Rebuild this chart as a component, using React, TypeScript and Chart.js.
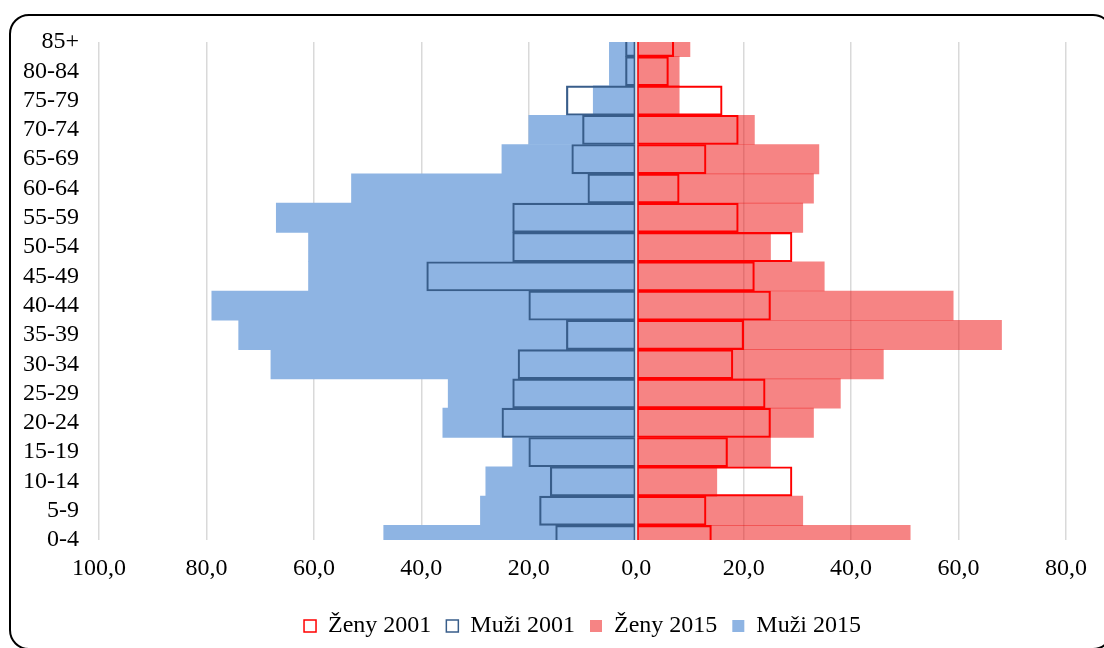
import React, { useEffect, useRef } from 'react';
import { Chart, registerables } from 'chart.js';

Chart.register(...registerables);

// Age groups from youngest (bottom) to oldest (top)
const ageGroups = ['0-4', '5-9', '10-14', '15-19', '20-24', '25-29', '30-34', '35-39', '40-44', '45-49', '50-54', '55-59', '60-64', '65-69', '70-74', '75-79', '80-84', '85+'];

const zeny2001 = [14, 13, 29, 17, 25, 24, 18, 20, 25, 22, 29, 19, 8, 13, 19, 16, 6, 7];
const muzi2001 = [15, 18, 16, 20, 25, 23, 22, 13, 20, 39, 23, 23, 9, 12, 10, 13, 2, 2];
const zeny2015 = [51, 31, 15, 25, 33, 38, 46, 68, 59, 35, 25, 31, 33, 34, 22, 8, 8, 10];
const muzi2015 = [47, 29, 28, 23, 36, 35, 68, 74, 79, 61, 61, 67, 53, 25, 20, 8, 5, 5];

const seriesLabels = ['Ženy 2001', 'Muži 2001', 'Ženy 2015', 'Muži 2015'];

const xMin = -100;
const xMax = 80;
const xStep = 20;

const FONT = "'Liberation Serif', 'Times New Roman', serif";
const FONT_SIZE = 24;

const zeroLine = {
  id: 'zeroLine',
  afterDatasetsDraw(chart: any) {
    const ctx = chart.ctx;
    const x = chart.scales.x.getPixelForValue(0);
    const { top, bottom } = chart.chartArea;
    ctx.save();
    ctx.strokeStyle = '#DCE3EA';
    ctx.lineWidth = 2;
    ctx.beginPath();
    ctx.moveTo(x, top);
    ctx.lineTo(x, bottom);
    ctx.stroke();
    ctx.restore();
  },
};

// Centre the legend under the plot area (as in the original)
const legendUnderPlot = {
  id: 'legendUnderPlot',
  afterLayout(chart: any) {
    const lg = chart.legend;
    if (!lg) return;
    const shift = (chart.chartArea.left + chart.chartArea.right) / 2 - (lg.left + lg.right) / 2;
    lg.left += shift;
    lg.right += shift;
  },
};

export default function App() {
  const canvasRef = useRef<HTMLCanvasElement>(null);

  useEffect(() => {
    if (!canvasRef.current) return;
    const chart = new Chart(canvasRef.current, {
      type: 'bar',
      data: {
        labels: ageGroups,
        datasets: [
          {
            label: seriesLabels[0],
            data: zeny2001,
            backgroundColor: 'rgba(0,0,0,0)',
            borderColor: '#FF0000',
            borderWidth: 1.5,
            borderSkipped: false,
            grouped: false,
            barPercentage: 1,
            categoryPercentage: 1,
          } as any,
          {
            label: seriesLabels[1],
            data: muzi2001.map((v) => -v),
            backgroundColor: 'rgba(0,0,0,0)',
            borderColor: '#385D8A',
            borderWidth: 1.5,
            borderSkipped: false,
            grouped: false,
            barPercentage: 1,
            categoryPercentage: 1,
          } as any,
          {
            label: seriesLabels[2],
            data: zeny2015,
            backgroundColor: 'rgba(238,10,10,0.5)',
            borderWidth: 0,
            grouped: false,
            barPercentage: 1,
            categoryPercentage: 1,
          } as any,
          {
            label: seriesLabels[3],
            data: muzi2015.map((v) => -v),
            backgroundColor: '#8EB4E3',
            borderWidth: 0,
            grouped: false,
            barPercentage: 1,
            categoryPercentage: 1,
          } as any,
        ],
      },
      options: {
        indexAxis: 'y',
        responsive: false,
        animation: false,
        devicePixelRatio: 1,
        layout: { padding: { top: 42, left: 0, right: 38, bottom: 0 } },
        plugins: {
          legend: {
            position: 'bottom',
            labels: {
              font: { family: FONT, size: FONT_SIZE },
              color: '#000',
              boxWidth: 12,
              boxHeight: 12,
              padding: 15,
            },
          },
          tooltip: { enabled: false },
        },
        scales: {
          x: {
            type: 'linear',
            min: xMin,
            max: xMax,
            ticks: {
              stepSize: xStep,
              font: { family: FONT, size: FONT_SIZE },
              color: '#000',
              padding: 14,
              callback: (v: any) => Math.abs(Number(v)).toFixed(1).replace('.', ','),
            },
            grid: { color: '#D9D9D9', lineWidth: 1.5, drawTicks: false },
            border: { display: false },
            afterFit: (scale: any) => {
              scale.height = 59;
            },
          },
          y: {
            type: 'category',
            reverse: true,
            offset: false,
            ticks: {
              autoSkip: false,
              font: { family: FONT, size: FONT_SIZE },
              color: '#000',
              padding: 20,
            },
            grid: { display: false, drawTicks: false },
            border: { display: false },
            afterFit: (scale: any) => {
              scale.width = 99;
            },
          },
        },
      } as any,
      plugins: [zeroLine, legendUnderPlot],
    });
    return () => chart.destroy();
  }, []);

  return (
    <div style={{ position: 'fixed', left: 0, top: 0, width: 1104, height: 648, overflow: 'hidden', background: '#fff' }}>
      <div
        style={{
          position: 'absolute',
          left: 9,
          top: 14,
          width: 1104,
          height: 636,
          border: '2px solid #000',
          borderRadius: 20,
          boxSizing: 'border-box',
        }}
      />
      <canvas ref={canvasRef} width={1104} height={648} style={{ position: 'absolute', left: 0, top: 0, width: 1104, height: 648 }} />
    </div>
  );
}
